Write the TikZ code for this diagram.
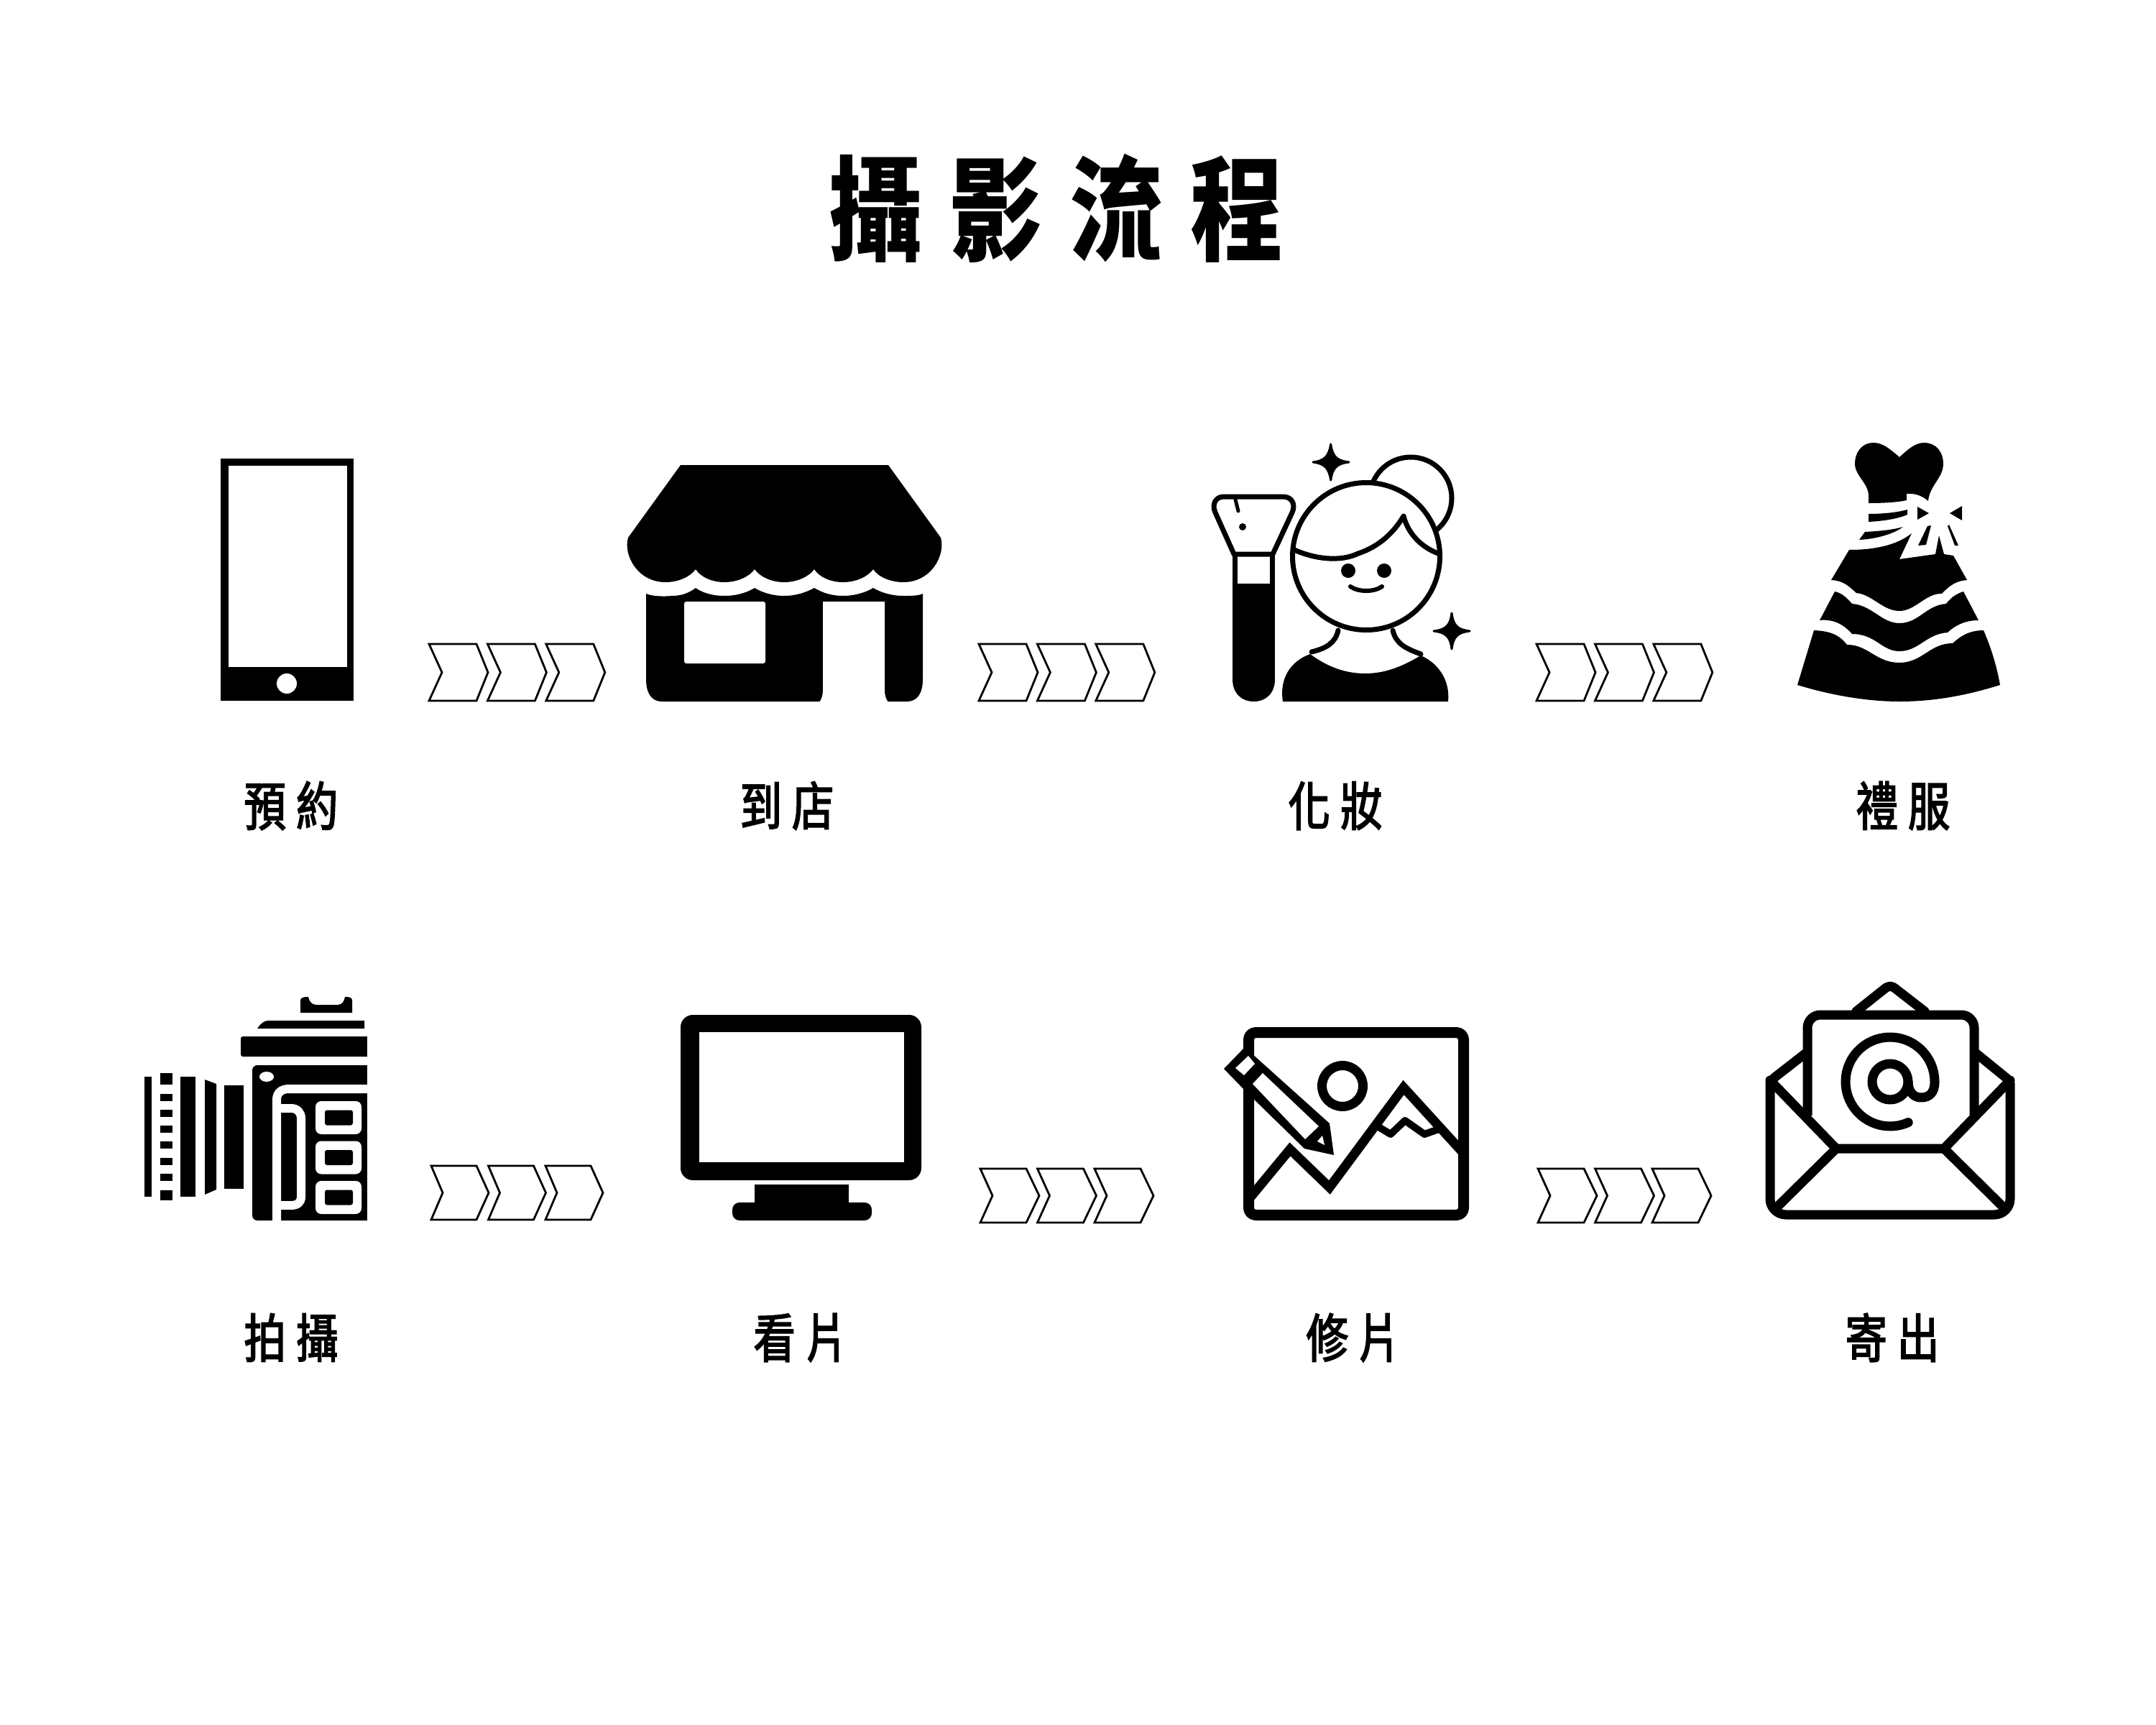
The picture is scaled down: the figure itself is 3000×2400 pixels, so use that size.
\documentclass[tikz,border=0pt]{standalone}
\usepackage{fontspec}
\newfontfamily\cjk[FakeStretch=0.82]{Noto Sans CJK TC}
\newfontfamily\cjklabel[FakeStretch=0.8,FakeBold=2.5]{Noto Sans CJK TC}
\tikzset{
  ink/.style={fill=black,draw=none},
  paper/.style={fill=white,draw=none},
  pen/.style={draw=black,line width=#1,line join=round,line cap=round},
  pen/.default=7,
  cutline/.style={draw=white,line width=#1,line join=round},
  cutline/.default=12,
  chevronshape/.style={draw=black,line width=2.8,fill=white,line join=miter},
  sparkle/.style={fill=black,draw=black,line width=3,line join=round},
  titletext/.style={font=\cjk\bfseries\fontsize{158}{158}\selectfont,inner sep=0,text=black},
  steptext/.style={font=\cjklabel\fontsize{73}{73}\selectfont,inner sep=0,text=black}
}
% x, y(top), width, height, notch, shoulder, pitch
\newcommand{\chevrons}[7]{%
  \foreach \i in {0,1,2}{%
    \pgfmathsetmacro{\xa}{#1+\i*#7}
    \draw[chevronshape] (\xa,#2) -- ++(#6,0) -- ++({#3-#6},{#4/2}) -- ++({#6-#3},{#4/2}) -- ++({-#6},0) -- ++(#5,{-#4/2}) -- cycle;
  }%
}
\begin{document}
\begin{tikzpicture}[x=1pt,y=-1pt]
\fill[white] (0,0) rectangle (3000,2400);
\path[use as bounding box] (0,0) rectangle (3000,2400);

% ---- title
\node[titletext] (title) at (1470,290) {攝\hspace{38pt}影\hspace{38pt}流\hspace{38pt}程};

% ---- labels
\node[steptext] (l1) at (405,1121) {預\hspace{14pt}約};
\node[steptext] (l2) at (1095,1121) {到\hspace{14pt}店};
\node[steptext] (l3) at (1858,1121) {化\hspace{14pt}妝};
\node[steptext] (l4) at (2648,1121) {禮\hspace{14pt}服};
\node[steptext] (l5) at (405,1861) {拍\hspace{14pt}攝};
\node[steptext] (l6) at (1114,1861) {看\hspace{14pt}片};
\node[steptext] (l7) at (1883,1861) {修\hspace{14pt}片};
\node[steptext] (l8) at (2633,1861) {寄\hspace{14pt}出};

% ---- chevrons
\chevrons{597}{896}{82}{79}{18}{66}{81.4}
\chevrons{1362}{896}{82}{79}{18}{66}{81.4}
\chevrons{2138}{896}{82}{79}{18}{66}{81.4}
\chevrons{600}{1622}{80}{75}{16}{63}{79.5}
\chevrons{1364}{1626}{82}{75}{17}{64}{79.5}
\chevrons{2140}{1626}{82}{75}{17}{64}{79.5}

% ---- phone
\fill[ink] (307,638) rectangle (492,975);
\fill[paper] (318,648) rectangle (483,928);
\fill[paper] (399,951) circle[radius=14];

% ---- shop
\fill[ink] (947,647) -- (1236,647) -- (1309,748)
  .. controls (1316,772) and (1296,810) .. (1257,810)
  .. controls (1240,810) and (1222,803) .. (1215,792)
  .. controls (1207,803) and (1190,810) .. (1173,810)
  .. controls (1156,810) and (1140,803) .. (1133,792)
  .. controls (1125,803) and (1108,810) .. (1091,810)
  .. controls (1074,810) and (1058,803) .. (1050,792)
  .. controls (1042,803) and (1025,810) .. (1008,810)
  .. controls (991,810) and (975,803) .. (968,792)
  .. controls (960,803) and (943,810) .. (926,810)
  .. controls (887,810) and (867,772) .. (874,748) -- cycle;
\fill[ink] (899,826) .. controls (908,830) and (925,830) .. (935,829)
  .. controls (950,829) and (960,824) .. (968,818)
  .. controls (976,824) and (990,829) .. (1008,829)
  .. controls (1026,829) and (1040,824) .. (1050,818)
  .. controls (1060,824) and (1074,829) .. (1091,829)
  .. controls (1108,829) and (1122,824) .. (1133,818)
  .. controls (1143,824) and (1156,829) .. (1173,829)
  .. controls (1190,829) and (1205,824) .. (1215,818)
  .. controls (1225,824) and (1240,829) .. (1257,829)
  .. controls (1268,829) and (1278,829) .. (1284,826)
  -- (1284,945) .. controls (1284,965) and (1276,976) .. (1262,976)
  -- (921,976) .. controls (907,976) and (899,965) .. (899,945) -- cycle;
\fill[paper,rounded corners=3] (952,837) rectangle (1065,923);
\fill[paper] (1145,837) -- (1231,837) -- (1231,960) .. controls (1231,968) and (1233,973) .. (1236,977) -- (1140,977) .. controls (1143,973) and (1145,968) .. (1145,960) -- cycle;

% ---- makeup
\draw[pen,fill=white] (1963,693) circle[radius=57];
\draw[pen,fill=white] (1901,774) circle[radius=102.5];
\draw[pen] (1801,765) .. controls (1830,778) and (1865,782) .. (1890,770) .. controls (1920,760) and (1940,740) .. (1953,718) .. controls (1960,745) and (1980,762) .. (2001,770);
\fill[ink] (1876,794) circle[radius=10];
\fill[ink] (1926,794) circle[radius=10];
\draw[pen=6] (1879,816) .. controls (1890,824) and (1912,824) .. (1923,816);
\draw[pen] (1862,877) .. controls (1858,895) and (1845,902) .. (1825,907);
\draw[pen] (1938,877) .. controls (1942,895) and (1955,902) .. (1977,910);
\fill[ink] (1823,910) .. controls (1850,930) and (1875,937) .. (1900,937) .. controls (1930,937) and (1955,925) .. (1977,912)
  .. controls (2000,922) and (2018,945) .. (2015,976) -- (1785,976) .. controls (1780,945) and (1795,920) .. (1823,910) -- cycle;
\fill[ink] (1715,770) rectangle (1774,945);
\fill[ink] (1715,945) .. controls (1715,965) and (1728,976) .. (1744.5,976) .. controls (1761,976) and (1774,965) .. (1774,945) -- cycle;
\fill[paper] (1722,774) rectangle (1767,812);
\draw[pen,fill=white] (1703,691) -- (1785,691) .. controls (1798,691) and (1803,702) .. (1798,713) -- (1771,771) -- (1717,771) -- (1691,713) .. controls (1686,702) and (1691,691) .. (1703,691) -- cycle;
\draw[pen=5] (1719,695) -- (1723,711);
\fill[ink] (1729,733) circle[radius=5];
\draw[sparkle] (1851.7,618) .. controls (1854,635) and (1860,641) .. (1877,643) .. controls (1860,645) and (1854,651) .. (1851.7,668) .. controls (1849,651) and (1843,645) .. (1827,643) .. controls (1843,641) and (1849,635) .. (1851.7,618) -- cycle;
\draw[sparkle] (2020,853) .. controls (2022,870) and (2028,876) .. (2045,878) .. controls (2028,880) and (2022,886) .. (2020,903) .. controls (2018,886) and (2012,880) .. (1995,878) .. controls (2012,876) and (2018,870) .. (2020,853) -- cycle;

% ---- dress
\fill[ink] (2643,636) .. controls (2630,625) and (2620,616) .. (2607,616) .. controls (2590,616) and (2581,630) .. (2581,645)
  .. controls (2581,662) and (2600,672) .. (2600,690) -- (2600,700) .. controls (2620,700) and (2640,699) .. (2653,696) -- (2653,687)
  .. controls (2665,686) and (2675,690) .. (2683,697) .. controls (2685,675) and (2704,665) .. (2704,645)
  .. controls (2704,630) and (2695,616) .. (2677,616) .. controls (2665,616) and (2655,625) .. (2643,636) -- cycle;
\fill[ink] (2600,715) .. controls (2620,715) and (2640,713) .. (2654,709) -- (2654,716) .. controls (2640,722) and (2620,725) .. (2600,726) -- cycle;
\fill[ink] (2595,740) .. controls (2615,739) and (2635,737) .. (2648,733) .. controls (2635,743) and (2610,750) .. (2587,751) -- cycle;
\fill[ink] (2668,705) -- (2684,714) -- (2668,723) -- cycle;
\fill[ink] (2730,704) -- (2713,714) -- (2730,724) -- cycle;
\fill[ink] (2682,732) -- (2687,731) -- (2680,758) -- (2669,759) -- cycle;
\fill[ink] (2712,730) -- (2725,759) -- (2720,759) -- (2710,732) -- cycle;
\fill[ink] (2573,765) .. controls (2610,765) and (2640,758) .. (2660,742) -- (2643,778) -- (2693,771) -- (2698,745) -- (2705,771) -- (2718,773) -- (2737,807)
  .. controls (2722,808) and (2712,815) .. (2702,826) .. controls (2680,825) and (2665,850) .. (2643,850) .. controls (2620,850) and (2605,827) .. (2583,825) .. controls (2572,815) and (2565,808) .. (2548,807) -- cycle;
\fill[ink] (2732,823) .. controls (2722,826) and (2714,832) .. (2708,840) .. controls (2680,842) and (2670,867) .. (2643,867) .. controls (2618,867) and (2605,842) .. (2577,840) .. controls (2570,832) and (2563,825) .. (2553,823)
  -- (2532,863) .. controls (2550,861) and (2565,868) .. (2577,882) .. controls (2610,882) and (2618,906) .. (2643,906) .. controls (2670,906) and (2680,882) .. (2710,880) .. controls (2720,870) and (2735,863) .. (2753,863) -- cycle;
\fill[ink] (2760,877) .. controls (2740,877) and (2728,885) .. (2717,895) .. controls (2685,895) and (2675,922) .. (2643,922) .. controls (2610,922) and (2600,897) .. (2570,897) .. controls (2562,887) and (2552,878) .. (2524,877)
  -- (2501,953) .. controls (2550,968) and (2600,976) .. (2643,976) .. controls (2690,976) and (2735,968) .. (2783,953) .. controls (2778,925) and (2770,900) .. (2760,877) -- cycle;

% ---- camera
\fill[ink] (418,1392) .. controls (418,1388) and (422,1387) .. (429,1387) .. controls (430,1393) and (434,1398) .. (440,1398) -- (470,1398) .. controls (476,1398) and (479,1393) .. (480,1387) .. controls (487,1387) and (490,1388) .. (490,1392) -- (490,1409) -- (418,1409) -- cycle;
\fill[ink] (358,1431) .. controls (362,1425) and (367,1420) .. (373,1420) -- (507,1420) -- (507,1431) -- cycle;
\fill[ink,rounded corners=3] (335,1442) rectangle (520,1470);
\fill[ink,rounded corners=7] (351,1482) rectangle (525,1698);
\fill[paper] (511,1430) rectangle (530,1705);
\fill[paper] (371,1498) ellipse[x radius=10,y radius=7];
\draw[cutline] (385,1699) -- (385,1530) .. controls (385,1520) and (392,1515) .. (402,1515) -- (512,1515);
\draw[cutline] (391,1542) -- (405,1542) .. controls (414,1542) and (419,1548) .. (419,1556) -- (419,1665) .. controls (419,1673) and (414,1677) .. (405,1677) -- (391,1677);
\foreach \yy in {1532,1587.5,1643}{
  \fill[paper,rounded corners=8] (439,\yy) rectangle (503,\yy+46);
  \fill[ink,rounded corners=3] (452,\yy+12.5) rectangle (491,\yy+33.5);
}
\fill[ink] (201,1498) rectangle (211,1665);
\fill[ink] (223,1493) rectangle (240,1509);
\foreach \yy in {1522,1544,1566,1588,1611,1633}{\fill[ink] (223,\yy) rectangle (240,\yy+10);}
\fill[ink] (223,1656) rectangle (240,1670);
\fill[ink] (251,1498) rectangle (272,1665);
\fill[ink] (285,1502) -- (301,1508) -- (301,1655) -- (285,1662) -- cycle;
\fill[ink] (312,1510) rectangle (339,1654);

% ---- monitor
\fill[ink,rounded corners=17] (947,1412) rectangle (1282,1642);
\fill[paper] (973,1436) rectangle (1258,1617);
\fill[ink] (1050,1648) rectangle (1181,1675);
\fill[ink,rounded corners=10] (1019,1673) rectangle (1213,1698);

% ---- picture editing
\draw[pen=15,rounded corners=10,line cap=butt] (1737.5,1436.5) rectangle (2036.5,1690.5);
\draw[pen=13,line join=miter,line cap=butt] (1738,1668) -- (1795,1599) -- (1850,1652) -- (1953,1513) -- (2036,1604);
\draw[pen=10,line cap=butt] (1915,1566) -- (1935,1578) -- (1955,1559) -- (1982,1578) -- (2002,1571);
\draw[pen=13] (1868,1511) circle[radius=28.5];
\fill[ink] (1703,1487) -- (1732,1457) -- (1850,1563) -- (1856,1607) -- (1815,1598) -- (1732,1517) -- cycle;
\fill[paper] (1719,1486) -- (1737,1469) -- (1746,1480) -- (1731,1496) -- cycle;
\fill[paper] (1743,1508) -- (1757,1493) -- (1835,1567) -- (1816,1585) -- cycle;
\fill[paper] (1833,1588) -- (1840,1580) -- (1843,1593) -- cycle;

% ---- envelope
\draw[pen=13,rounded corners=18,line cap=butt] (2515,1552) -- (2515,1412) -- (2747,1412) -- (2747,1552);
\draw[pen=13] (2583,1407) -- (2622,1376) .. controls (2628,1371) and (2632,1371) .. (2638,1376) -- (2678,1407);
\draw[pen=13] (2513,1465) -- (2468,1500);
\draw[pen=13] (2749,1465) -- (2792,1500);
\draw[pen=13,rounded corners=22] (2463,1507) -- (2463,1690) -- (2797,1690) -- (2797,1507);
\draw[pen=13] (2463,1503) -- (2555,1598) -- (2705,1598) -- (2797,1503);
\draw[pen=13] (2470,1682) -- (2555,1598);
\draw[pen=13] (2790,1682) -- (2705,1598);
\draw[pen=13] (2630,1505) circle[radius=25];
\draw[pen=13] plot[domain=66:360,samples=50] ({2630+62*cos(\x)},{1505+62*sin(\x)})
  .. controls (2692,1520) and (2685,1527) .. (2673,1527) .. controls (2662,1527) and (2655,1518) .. (2655,1505);
\end{tikzpicture}
\end{document}
